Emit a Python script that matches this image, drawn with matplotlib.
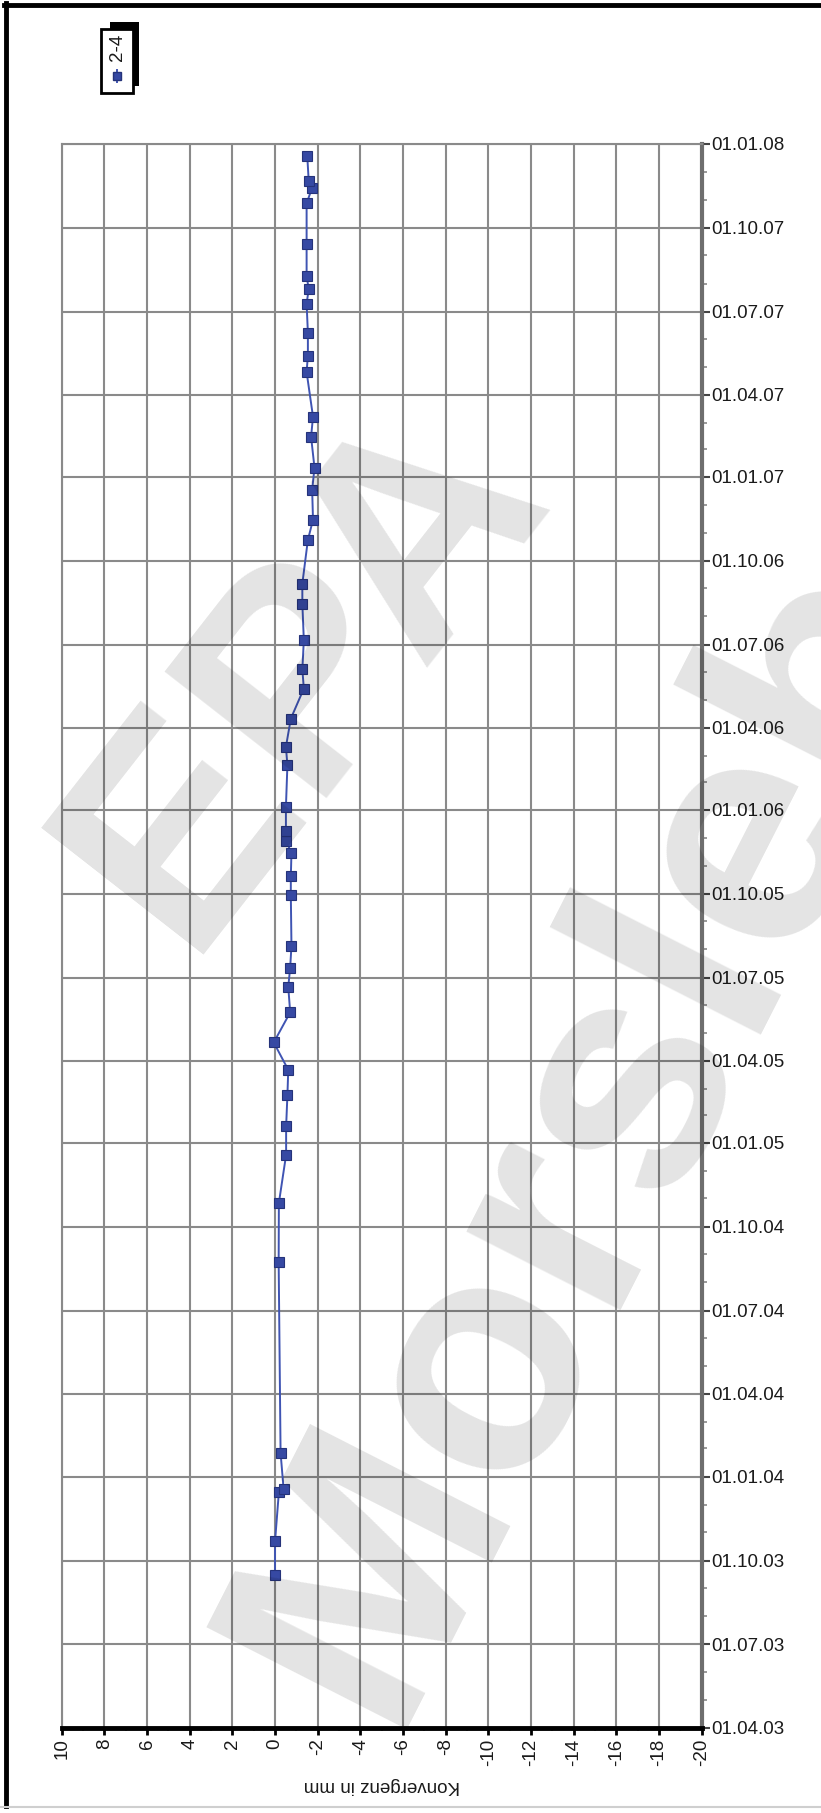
import numpy as np
import matplotlib
matplotlib.use('Agg')
import matplotlib.pyplot as plt
import matplotlib.dates as mdates
from matplotlib.patches import Rectangle
from matplotlib.lines import Line2D
import pandas as pd

plt.rcParams['font.family'] = ['Liberation Sans', 'DejaVu Sans']

# measuring point 2-4, convergence readings
dates = [
    '2003-09-15', '2003-10-22', '2003-12-15', '2003-12-19', '2004-01-27',
    '2004-08-23', '2004-10-27', '2004-12-19', '2005-01-19', '2005-02-22',
    '2005-03-22', '2005-04-21', '2005-05-24', '2005-06-21', '2005-07-12',
    '2005-08-05', '2005-09-30', '2005-10-20', '2005-11-15', '2005-11-28',
    '2005-12-09', '2006-01-04', '2006-02-19', '2006-03-11', '2006-04-11',
    '2006-05-14', '2006-06-04', '2006-07-06', '2006-08-15', '2006-09-06',
    '2006-10-24', '2006-11-15', '2006-12-18', '2007-01-11', '2007-02-14',
    '2007-03-08', '2007-04-26', '2007-05-14', '2007-06-08', '2007-07-10',
    '2007-07-26', '2007-08-09', '2007-09-13', '2007-10-28', '2007-11-14',
    '2007-11-21', '2007-12-19',
]
konvergenz = [
    0.0, 0.0, -0.18, -0.4, -0.26,
    -0.17, -0.18, -0.52, -0.52, -0.58,
    -0.62, 0.06, -0.71, -0.62, -0.71,
    -0.77, -0.74, -0.74, -0.77, -0.51,
    -0.51, -0.51, -0.58, -0.51, -0.74,
    -1.35, -1.28, -1.35, -1.28, -1.28,
    -1.54, -1.78, -1.74, -1.85, -1.69,
    -1.78, -1.48, -1.54, -1.54, -1.48,
    -1.58, -1.48, -1.48, -1.48, -1.74,
    -1.58, -1.51,
]
series_name = '2-4'
x_ticks = list(range(10, -21, -2))
date_start, date_end = '2003-04-01', '2008-01-01'

W, H = 821, 1813
fig = plt.figure(figsize=(W / 100, H / 100), dpi=100)


def fx(px):
    return px / W


def fy(py):
    return 1 - py / H


ax = fig.add_axes([fx(61.7), fy(1727.5), fx(701.7) - fx(61.7), fy(144) - fy(1727.5)])

t = pd.to_datetime(dates)
ax.plot(konvergenz, t, color='#3f54b3', lw=1.4, marker='s', ms=7.5,
        mfc='#3649a3', mec='#25337a', mew=0.8, zorder=5)

ax.set_xlim(10, -20)
ax.set_ylim(pd.Timestamp(date_start), pd.Timestamp(date_end))
ax.set_xticks(x_ticks)
ax.set_xticks(range(9, -20, -2), minor=True)
ax.set_xticklabels([str(v) for v in x_ticks], rotation=90)

ax.yaxis.tick_right()
ax.yaxis.set_major_locator(mdates.MonthLocator(bymonth=[1, 4, 7, 10]))
ax.yaxis.set_minor_locator(mdates.MonthLocator())
ax.yaxis.set_major_formatter(mdates.DateFormatter('%d.%m.%y'))

ax.grid(True, which='major', color='#8a8a8a', lw=1.5)
ax.set_axisbelow(True)

ax.tick_params(axis='x', which='major', length=5, width=2, color='k',
               labelsize=13.5, pad=3)
ax.tick_params(axis='x', which='minor', length=2.5, width=1.3, color='#888')
ax.tick_params(axis='y', which='major', length=6, width=1.5, color='#444',
               labelsize=13.5, pad=1, right=True, left=False)
ax.tick_params(axis='y', which='minor', length=3.5, width=1.2, color='#888',
               right=True, left=False)
for lab in ax.get_yticklabels() + ax.get_xticklabels():
    lab.set_color('#1a1a1a')

ax.spines['bottom'].set_color('k')
ax.spines['bottom'].set_linewidth(3.5)
ax.spines['right'].set_color('#6e6e6e')
ax.spines['right'].set_linewidth(3)
for s in ['top', 'left']:
    ax.spines[s].set_color('#8a8a8a')
    ax.spines[s].set_linewidth(1.5)

ax.set_xlabel('Konvergenz in mm', rotation=180, fontsize=13.5, labelpad=8,
              color='#1a1a1a')

# legend box with shadow
fig.add_artist(Rectangle((fx(110), fy(86)), fx(139) - fx(110), fy(22) - fy(86),
                         transform=fig.transFigure, fc='k', ec='k', lw=0))
fig.add_artist(Rectangle((fx(100.5), fy(93)), fx(133) - fx(100.5), fy(29) - fy(93),
                         transform=fig.transFigure, fc='white', ec='k', lw=2))
fig.text(fx(117), fy(47), series_name, rotation=90, fontsize=13.5,
         ha='center', va='center', color='#1a1a1a')
fig.add_artist(Line2D([fx(117), fx(117)], [fy(70), fy(82)], transform=fig.transFigure,
                      color='#3f54b3', lw=1.4))
fig.add_artist(Line2D([fx(117)], [fy(76)], transform=fig.transFigure, marker='s',
                      ms=6, mfc='#3649a3', mec='#25337a', ls='none'))

# watermark
fig.text(fx(185), fy(955), 'EPA', rotation=52, rotation_mode='anchor',
         ha='left', va='baseline', fontsize=215, fontweight='bold',
         color='k', alpha=0.11, zorder=10)
fig.text(fx(385), fy(1730), 'Morsleben', rotation=63, rotation_mode='anchor',
         ha='left', va='baseline', fontsize=235, fontweight='bold',
         color='k', alpha=0.11, zorder=10)

# page frame
fig.add_artist(Line2D([fx(6), fx(6)], [fy(3), fy(1806)], transform=fig.transFigure,
                      color='k', lw=3.5))
fig.add_artist(Line2D([fx(4), fx(821)], [fy(5), fy(5)], transform=fig.transFigure,
                      color='k', lw=3.5))
fig.add_artist(Line2D([fx(0), fx(821)], [fy(1807), fy(1807)], transform=fig.transFigure,
                      color='#cfcfcf', lw=1.5))

fig.savefig('out.png', dpi=100)
